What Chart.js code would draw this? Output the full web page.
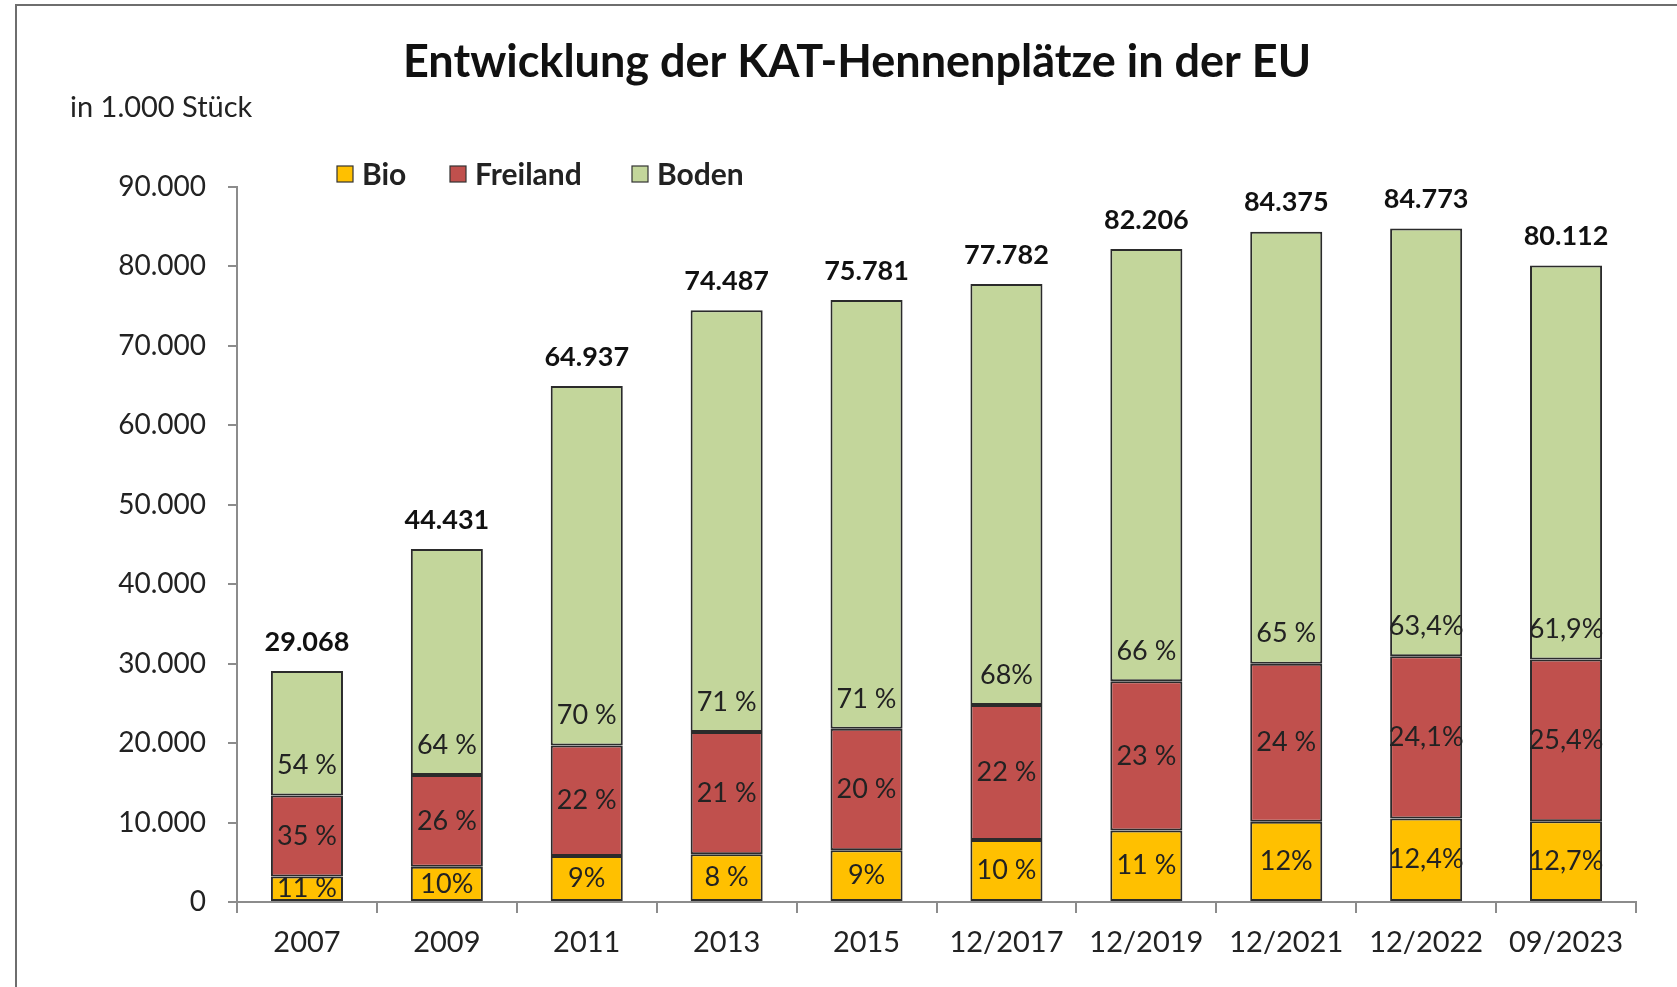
<!DOCTYPE html>
<html>
<head>
<meta charset="utf-8">
<script src="https://cdn.jsdelivr.net/npm/chart.js@4.4.1/dist/chart.umd.min.js"></script>
<style>
  html, body { margin: 0; padding: 0; background: #fff; }
  #wrap { width: 1677px; height: 987px; }
</style>
</head>
<body>
<div id="wrap"><canvas id="hennen" width="1677" height="987"></canvas></div>
<script>
// data (in 1.000 Stück)
var kategorien = ['2007', '2009', '2011', '2013', '2015', '12/2017', '12/2019', '12/2021', '12/2022', '09/2023'];
var bio      = [3200, 4440, 5800, 6000, 6500, 7800, 9000, 10100, 10500, 10170];
var freiland = [10200, 11550, 13900, 15400, 15300, 17000, 18800, 19900, 20430, 20350];
var boden    = [15668, 28441, 45237, 53087, 53981, 52982, 54406, 54375, 53843, 49592];
var gesamt   = ['29.068', '44.431', '64.937', '74.487', '75.781', '77.782', '82.206', '84.375', '84.773', '80.112'];
var bioPct      = ['11 %', '10%', '9%', '8 %', '9%', '10 %', '11 %', '12%', '12,4%', '12,7%'];
var freilandPct = ['35 %', '26 %', '22 %', '21 %', '20 %', '22 %', '23 %', '24 %', '24,1%', '25,4%'];
var bodenPct    = ['54 %', '64 %', '70 %', '71 %', '71 %', '68%', '66 %', '65 %', '63,4%', '61,9%'];
var yTicks = [0, 10000, 20000, 30000, 40000, 50000, 60000, 70000, 80000, 90000];

var FONT = 'Lato, "Open Sans", sans-serif';

function tausender(v) {
	return String(v).replace(/\B(?=(\d{3})+(?!\d))/g, '.');
}

var rahmenUndText = {
	id: 'rahmenUndText',
	beforeDraw: function(chart) {
		var ctx = chart.ctx;
		ctx.save();
		ctx.fillStyle = '#fff';
		ctx.fillRect(0, 0, chart.width, chart.height);
		ctx.strokeStyle = '#6e6e6e';
		ctx.lineWidth = 2;
		ctx.strokeRect(16, 5, 2000, 2000);

		ctx.fillStyle = '#111';
		ctx.textBaseline = 'middle';
		ctx.textAlign = 'center';
		ctx.font = 'bold 45px ' + FONT;
		ctx.fillText('Entwicklung der KAT-Hennenplätze in der EU', 857, 62);

		ctx.textAlign = 'left';
		ctx.fillStyle = '#222';
		ctx.font = '29px ' + FONT;
		ctx.fillText('in 1.000 Stück', 70, 108);

		// legend
		var eintraege = [
			{ text: 'Bio', farbe: '#FFC000', x: 337 },
			{ text: 'Freiland', farbe: '#C0504D', x: 450 },
			{ text: 'Boden', farbe: '#C3D69B', x: 632 }
		];
		ctx.font = 'bold 30px ' + FONT;
		eintraege.forEach(function(e) {
			ctx.fillStyle = e.farbe;
			ctx.fillRect(e.x, 166, 16, 16);
			ctx.strokeStyle = '#333';
			ctx.lineWidth = 1.2;
			ctx.strokeRect(e.x, 166, 16, 16);
			ctx.fillStyle = '#222';
			ctx.fillText(e.text, e.x + 25, 175);
		});
		ctx.restore();
	},
	afterDatasetsDraw: function(chart) {
		var ctx = chart.ctx;
		ctx.save();
		ctx.textAlign = 'center';
		ctx.textBaseline = 'middle';
		ctx.fillStyle = '#222';
		ctx.font = '27px ' + FONT;
		var pcts = [bioPct, freilandPct, bodenPct];
		for (var d = 0; d < 3; d++) {
			var meta = chart.getDatasetMeta(d);
			meta.data.forEach(function(bar, i) {
				var y = d < 2 ? (bar.y + bar.base) / 2 : bar.base - 30;
				ctx.fillText(pcts[d][i], bar.x, y);
			});
		}
		ctx.font = 'bold 27px ' + FONT;
		ctx.fillStyle = '#111';
		chart.getDatasetMeta(2).data.forEach(function(bar, i) {
			ctx.fillText(gesamt[i], bar.x, bar.y - 29);
		});
		ctx.restore();
	}
};

var chartdata = {
	labels: kategorien,
	datasets: [
		{ label: 'Bio', data: bio, backgroundColor: '#FFC000' },
		{ label: 'Freiland', data: freiland, backgroundColor: '#C0504D' },
		{ label: 'Boden', data: boden, backgroundColor: '#C3D69B' }
	]
};
chartdata.datasets.forEach(function(ds) {
	ds.borderColor = '#2b2b2b';
	ds.borderWidth = 2;
	ds.borderSkipped = false;
	ds.categoryPercentage = 1;
	ds.barPercentage = 0.515;
});

var hennenChart = new Chart(document.getElementById('hennen'), {
	type: 'bar',
	data: chartdata,
	plugins: [rahmenUndText],
	options: {
		responsive: false,
		animation: false,
		layout: { padding: { left: 0, right: 41, top: 187, bottom: 0 } },
		plugins: {
			legend: { display: false },
			title: { display: false },
			tooltip: { enabled: false }
		},
		scales: {
			x: {
				stacked: true,
				grid: { drawOnChartArea: false, drawTicks: true, tickLength: 11, color: '#8c8c8c', lineWidth: 2, offset: true },
				border: { display: true, color: '#8c8c8c', width: 2 },
				ticks: { color: '#222', font: { family: FONT, size: 29 }, padding: 12, maxRotation: 0, autoSkip: false },
				afterFit: function(scale) { scale.height = 85; }
			},
			y: {
				stacked: true,
				min: 0,
				max: 90000,
				afterBuildTicks: function(scale) {
					scale.ticks = yTicks.map(function(v) { return { value: v }; });
				},
				grid: { drawOnChartArea: false, drawTicks: true, tickLength: 9, color: '#8c8c8c', lineWidth: 2 },
				border: { display: true, color: '#8c8c8c', width: 2 },
				ticks: { color: '#222', font: { family: FONT, size: 28 }, padding: 22, callback: function(v) { return tausender(v); } },
				afterFit: function(scale) { scale.width = 237; }
			}
		}
	}
});
</script>
</body>
</html>
